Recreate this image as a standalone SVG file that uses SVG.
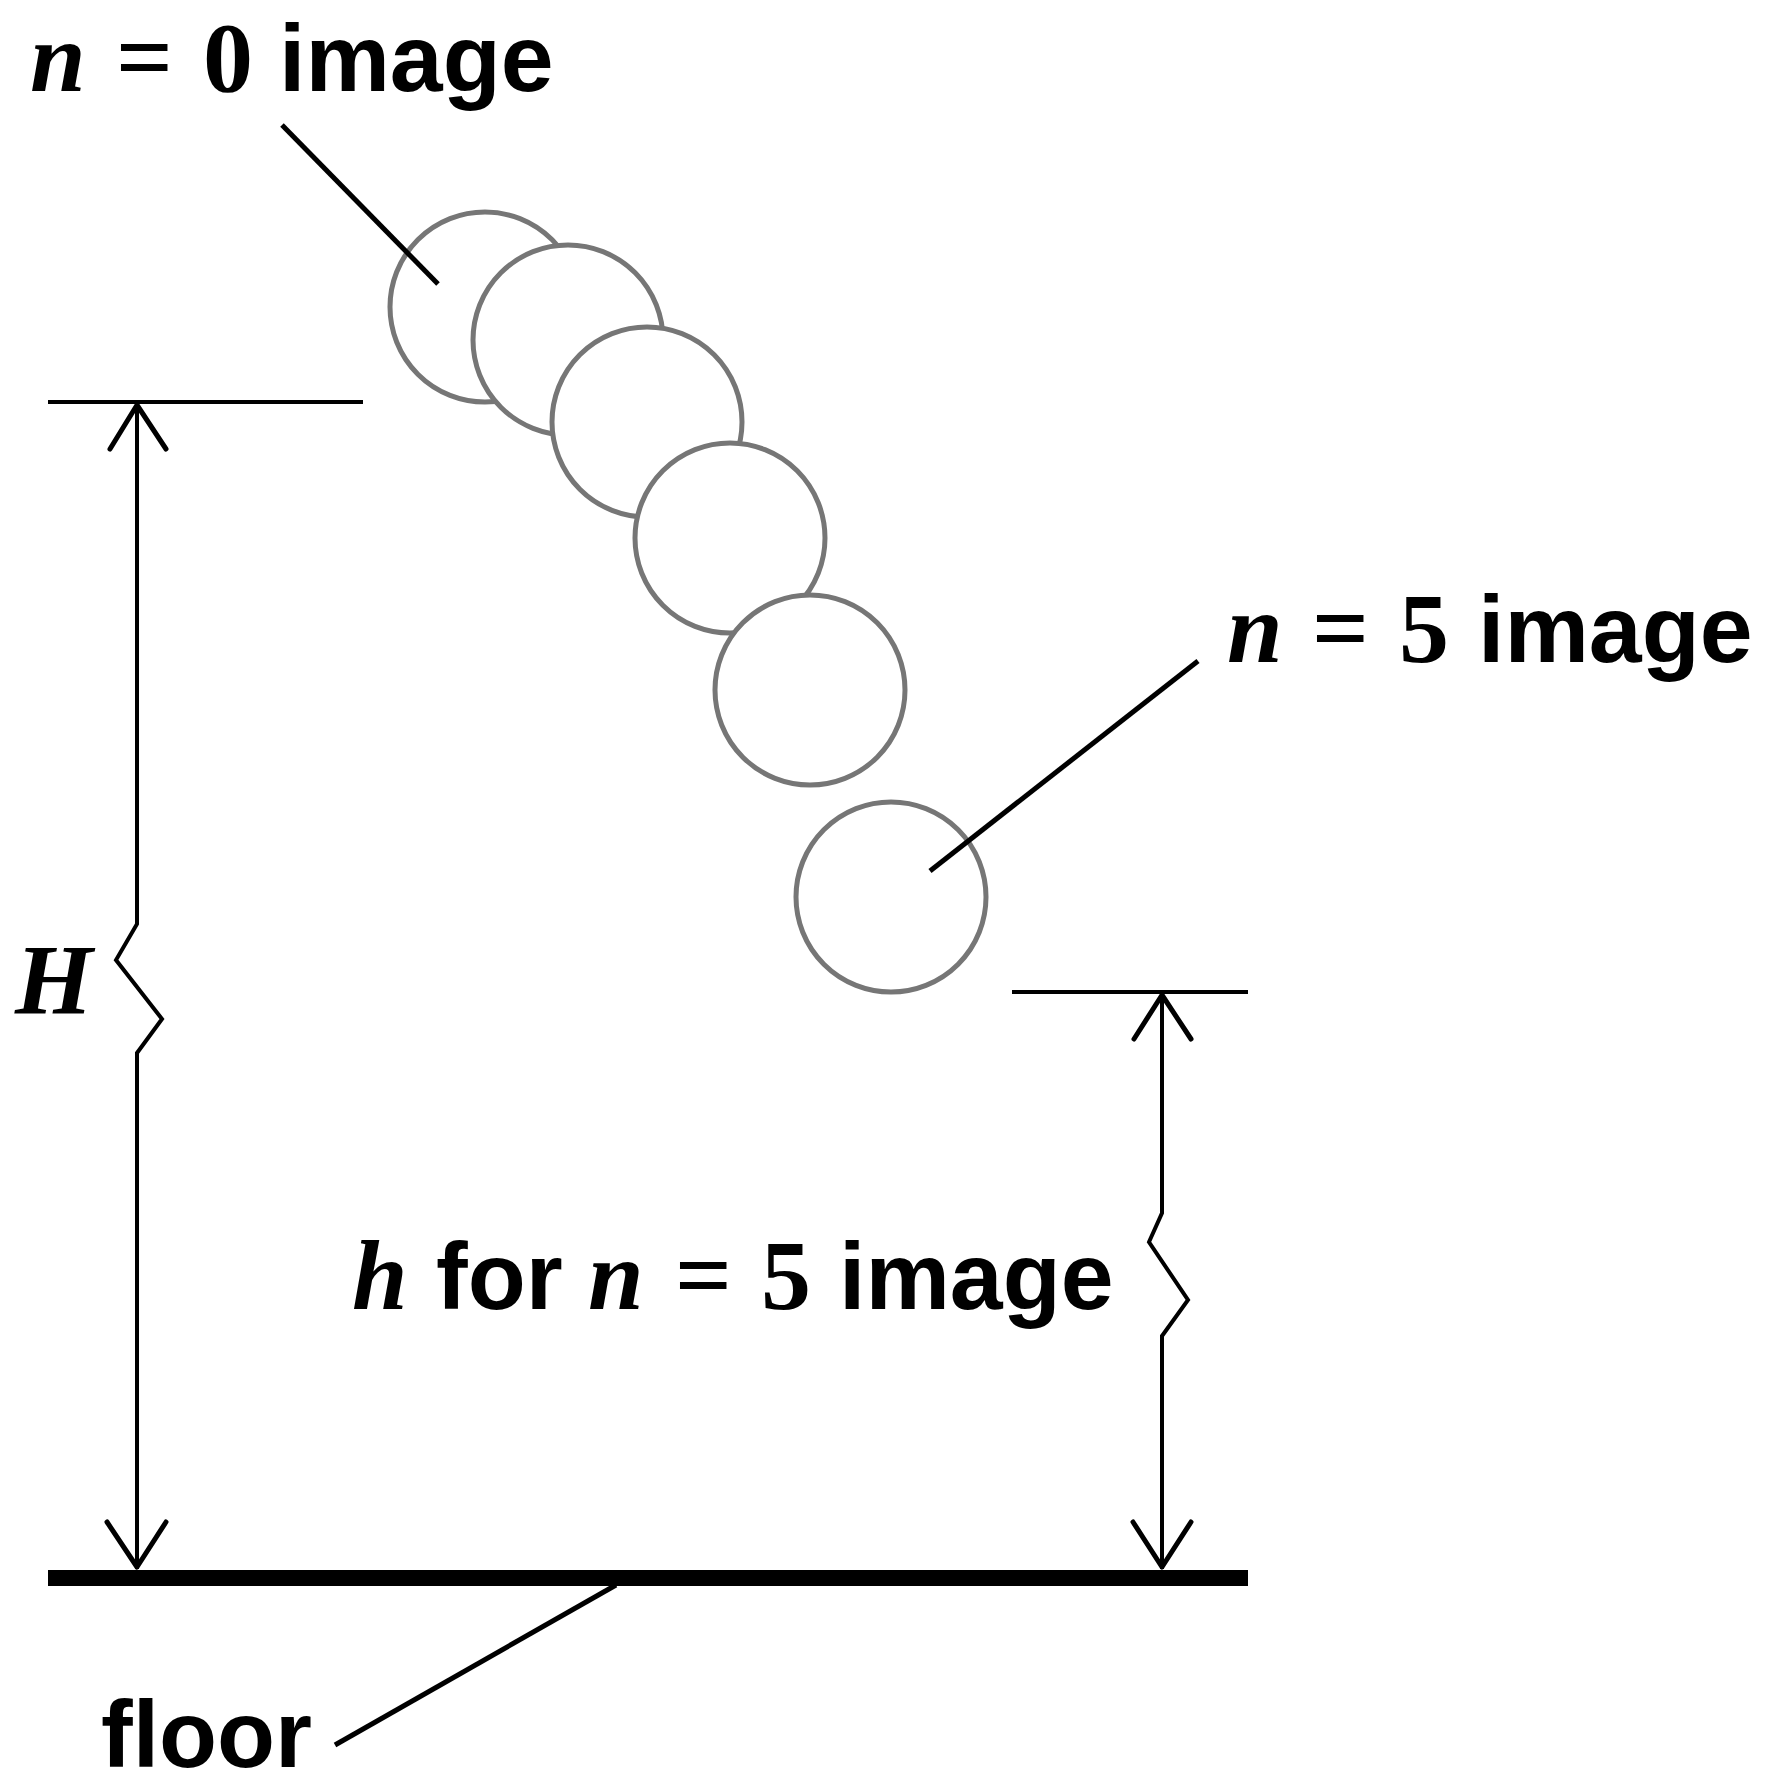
<svg xmlns="http://www.w3.org/2000/svg" width="1765" height="1773" viewBox="0 0 1765 1773">
<style>
.lbl{font-family:"Liberation Sans",Arial,sans-serif;font-weight:bold;font-size:95px;fill:#000}
.mi{font-family:"Liberation Serif","Times New Roman",serif;font-style:italic;font-weight:bold;font-size:100px}
.mn{font-family:"Liberation Serif","Times New Roman",serif;font-style:normal;font-weight:bold;font-size:100px}
.ball{fill:#fff;stroke:#767676;stroke-width:5}
.ln{stroke:#000;stroke-width:5;fill:none;stroke-linecap:butt}
.dim{stroke:#000;stroke-width:4;fill:none;stroke-linejoin:miter}
.ah{stroke:#000;stroke-width:5;fill:none;stroke-linecap:round;stroke-linejoin:round}
</style>
<rect width="1765" height="1773" fill="#fff"/>
<g id="balls">
<circle class="ball" cx="485" cy="307" r="95"/>
<circle class="ball" cx="568" cy="340" r="95"/>
<circle class="ball" cx="647" cy="422" r="95"/>
<circle class="ball" cx="730" cy="538" r="95"/>
<circle class="ball" cx="810" cy="690" r="95"/>
<circle class="ball" cx="891" cy="897" r="95"/>
</g>
<g id="connectors">
<line class="ln" x1="282" y1="125" x2="438" y2="284"/>
<line class="ln" x1="1198" y1="661" x2="930" y2="871"/>
<line class="ln" x1="616" y1="1585" x2="335" y2="1745"/>
<line x1="48" y1="402" x2="363" y2="402" stroke="#000" stroke-width="4"/>
<line x1="1012" y1="992" x2="1248" y2="992" stroke="#000" stroke-width="4"/>
<line x1="48" y1="1578" x2="1248" y2="1578" stroke="#000" stroke-width="16"/>
<polyline class="dim" points="137,402 137,924 116,960 162,1019 137,1053 137,1569"/>
<polyline class="ah" points="110,449 137,405 166,449"/>
<polyline class="ah" points="107,1522 137,1567 166,1522"/>
<polyline class="dim" points="1162,992 1162,1213 1149,1242 1188,1300 1162,1336 1162,1569"/>
<polyline class="ah" points="1134,1039 1162,995 1191,1039"/>
<polyline class="ah" points="1133,1522 1162,1567 1191,1522"/>
</g>
<g id="label-n0">
<text class="lbl" y="91"><tspan class="mi" x="30">n</tspan><tspan class="mn" x="116">=</tspan><tspan class="mn" x="203">0</tspan><tspan x="279">image</tspan></text>
</g>
<g id="label-n5">
<text class="lbl" y="662"><tspan class="mi" x="1227">n</tspan><tspan class="mn" x="1312">=</tspan><tspan class="mn" x="1399">5</tspan><tspan x="1478">image</tspan></text>
</g>
<g id="label-H">
<text class="mi" x="15" y="1013">H</text>
</g>
<g id="label-h">
<text class="lbl" y="1309"><tspan class="mi" x="352">h</tspan><tspan x="436">for</tspan><tspan class="mi" x="588">n</tspan><tspan class="mn" x="675">=</tspan><tspan class="mn" x="761">5</tspan><tspan x="839">image</tspan></text>
</g>
<g id="label-floor">
<text class="lbl" x="101" y="1767">floor</text>
</g>
</svg>
